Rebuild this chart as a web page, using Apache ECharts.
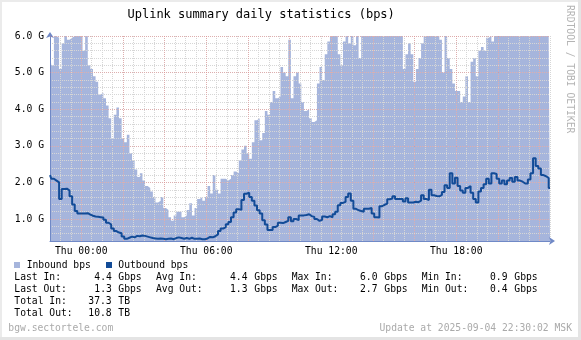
<!DOCTYPE html>
<html>
<head>
<meta charset="utf-8">
<script src="https://cdn.jsdelivr.net/npm/echarts@6.0.0/dist/echarts.min.js"></script>
<style>
html,body{margin:0;padding:0;background:#fff;}
#chart{width:581px;height:340px;}
</style>
</head>
<body>
<div id="chart"></div>
<script>
// ---- data ----
const startHour = -1.5;     // 22:30 previous day (hours relative to Thu 00:00)
const stepHour = 0.125;     // sample spacing in hours
const inboundGbps = [
  5.5, 5.2, 6.0, 5.95, 5.1, 5.8, 6.0, 5.9, 5.95, 6.0,
  6.0, 6.0, 6.0, 5.6, 6.0, 5.2, 5.1, 4.9, 4.75, 4.4,
  4.45, 4.3, 4.1, 3.75, 3.2, 3.85, 4.05, 3.75, 3.2, 3.1,
  3.3, 2.8, 2.6, 2.35, 2.15, 2.25, 2.05, 1.9, 1.85, 1.75,
  1.6, 1.45, 1.5, 1.6, 1.3, 1.25, 1.05, 0.95, 1.1, 1.2,
  1.2, 1.05, 1.1, 1.25, 1.43, 1.1, 1.3, 1.55, 1.6, 1.5,
  1.6, 1.9, 1.7, 2.2, 1.8, 1.7, 2.1, 2.1, 2.05, 2.1,
  2.2, 2.3, 2.25, 2.6, 2.9, 3.0, 2.8, 2.65, 3.1, 3.7,
  3.75, 3.15, 3.35, 3.95, 3.85, 4.2, 4.5, 4.3, 4.35, 5.15,
  5.0, 4.9, 5.9, 4.3, 4.9, 5.0, 4.7, 4.2, 3.95, 4.0,
  3.75, 3.65, 3.7, 4.7, 5.15, 4.8, 5.5, 5.85, 6.0, 6.0,
  6.0, 5.5, 5.2, 5.85, 6.0, 5.8, 6.0, 5.75, 6.0, 5.4,
  6.0, 6.0, 6.0, 6.0, 6.0, 6.0, 6.0, 6.0, 6.0, 6.0,
  6.0, 6.0, 6.0, 6.0, 6.0, 6.0, 5.1, 5.5, 5.8, 5.5,
  4.75, 5.1, 5.4, 5.8, 6.0, 6.0, 6.0, 6.0, 6.0, 6.0,
  5.9, 5.0, 6.0, 5.4, 5.1, 4.7, 4.5, 4.5, 4.2, 4.35,
  4.9, 4.2, 5.3, 5.4, 4.9, 5.6, 5.7, 5.6, 5.95, 6.0,
  5.85, 6.0, 6.0, 6.0, 6.0, 6.0, 6.0, 6.0, 6.0, 6.0,
  6.0, 6.0, 6.0, 6.0, 6.0, 6.0, 6.0, 6.0, 6.0, 6.0,
  6.0, 6.0, 6.0
];
const outboundGbps = [
  2.2, 2.1, 2.05, 2.0, 1.55, 1.82, 1.83, 1.78, 1.62, 1.4,
  1.22, 1.15, 1.15, 1.15, 1.16, 1.12, 1.09, 1.07, 1.06, 1.05,
  1.04, 0.98, 0.9, 0.85, 0.74, 0.67, 0.63, 0.61, 0.52, 0.46,
  0.49, 0.52, 0.5, 0.54, 0.53, 0.55, 0.54, 0.52, 0.5, 0.48,
  0.47, 0.46, 0.47, 0.46, 0.45, 0.46, 0.47, 0.45, 0.48, 0.5,
  0.48, 0.46, 0.48, 0.46, 0.49, 0.46, 0.46, 0.47, 0.45, 0.45,
  0.47, 0.51, 0.5, 0.53, 0.58, 0.67, 0.74, 0.78, 0.86, 0.92,
  1.05, 1.18, 1.27, 1.25, 1.52, 1.69, 1.72, 1.6, 1.5, 1.37,
  1.24, 1.15, 0.97, 0.85, 0.7, 0.7, 0.78, 0.82, 0.9, 0.89,
  0.92, 0.95, 1.05, 0.94, 1.0, 0.97, 1.1, 1.1, 1.11, 1.13,
  1.08, 1.06, 1.0, 0.95, 0.98, 1.07, 1.05, 1.08, 1.05, 1.13,
  1.2, 1.38, 1.44, 1.47, 1.6, 1.7, 1.5, 1.28, 1.24, 1.22,
  1.2, 1.28, 1.28, 1.3, 1.15, 1.05, 1.04, 1.35, 1.39, 1.42,
  1.54, 1.56, 1.62, 1.55, 1.55, 1.55, 1.48, 1.57, 1.45, 1.45,
  1.47, 1.46, 1.5, 1.65, 1.55, 1.52, 1.8, 1.65, 1.63, 1.62,
  1.66, 1.74, 1.92, 1.85, 2.25, 1.97, 2.13, 1.9, 1.78, 1.72,
  1.85, 1.9, 1.72, 1.55, 1.45, 1.75, 1.85, 1.95, 2.1, 1.97,
  2.25, 2.23, 2.1, 1.97, 2.05, 1.95, 2.05, 2.12, 2.02, 2.15,
  2.05, 2.02, 1.97, 1.97, 2.08, 2.25, 2.66, 2.45, 2.38, 2.2,
  2.17, 2.12, 1.85
];
const xLabelHours = [0, 6, 12, 18];
const xLabelDay = 'Thu';
const seriesNames = ['Inbound bps', 'Outbound bps'];
const statRowLabels = [['Last In:', 'Avg In:', 'Max In:', 'Min In:'], ['Last Out:', 'Avg Out:', 'Max Out:', 'Min Out:']];
const statRowValues = [['4.4', '4.4', '6.0', '0.9'], ['1.3', '1.3', '2.7', '0.4']];
const statUnit = 'Gbps';
const totalLabels = ['Total In:', 'Total Out:'];
const totalValues = ['37.3', '10.8'];
const totalUnit = 'TB';
const titleText = 'Uplink summary daily statistics (bps)';
const hostText = 'bgw.sectortele.com';
const updateText = 'Update at 2025-09-04 22:30:02 MSK';
const sideText = 'RRDTOOL / TOBI OETIKER';

// ---- styling ----
const FONT = 'DejaVu Sans Mono';
const C_IN = '#a6b5dc';
const C_OUT = '#124b97';
const C_AXIS = '#7089c6';
const C_GRID = '#d6d6d6';
const C_MGRID = 'rgba(232,120,120,0.42)';

const inData = inboundGbps.map((v, i) => [startHour + i * stepHour, v]);
const outData = outboundGbps.map((v, i) => [startHour + i * stepHour, v]);

const majorX = [];
for (let h = 0; h <= 22; h += 2) majorX.push({ xAxis: h });
const majorY = [];
for (let g = 1; g <= 6; g++) majorY.push({ yAxis: g });

function pad(n) { return (n < 10 ? '0' : '') + n; }

const txt = (x, y, text, opts) => Object.assign({
  type: 'text', x: x, y: y, silent: true,
  style: Object.assign({ text: text, fill: '#000', font: '9.7px "' + FONT + '"', textVerticalAlign: 'middle', textAlign: 'left' }, (opts || {}))
});

const graphics = [];
// frame
graphics.push({ type: 'rect', shape: { x: 0, y: 0, width: 581, height: 2 }, style: { fill: '#ebebeb' }, silent: true });
graphics.push({ type: 'rect', shape: { x: 0, y: 0, width: 2, height: 340 }, style: { fill: '#ebebeb' }, silent: true });
graphics.push({ type: 'rect', shape: { x: 0, y: 337, width: 581, height: 3 }, style: { fill: '#e4e4e4' }, silent: true });
graphics.push({ type: 'rect', shape: { x: 578, y: 0, width: 3, height: 340 }, style: { fill: '#e4e4e4' }, silent: true });
// title
graphics.push(txt(127.5, 15, titleText, { font: '12px "' + FONT + '"' }));
// side text
graphics.push({ type: 'text', x: 570, y: 5, rotation: -Math.PI / 2, silent: true,
  style: { text: sideText, fill: '#b4b4b4', font: '9.7px "' + FONT + '"', textAlign: 'left', textVerticalAlign: 'middle' } });
// legend
graphics.push({ type: 'rect', shape: { x: 14, y: 262, width: 6, height: 6 }, style: { fill: C_IN }, silent: true });
graphics.push(txt(26.7, 265.3, seriesNames[0]));
graphics.push({ type: 'rect', shape: { x: 106, y: 262, width: 6, height: 6 }, style: { fill: C_OUT }, silent: true });
graphics.push(txt(118.3, 265.3, seriesNames[1]));
// stats rows
const colLabelX = [14.3, 156, 291.7, 421.7];
const colValX = [94.3, 230, 360, 490];
const colUnitX = [118.3, 254.3, 384.3, 514.3];
const rowY = [277.7, 289.7];
for (let r = 0; r < 2; r++) {
  for (let c = 0; c < 4; c++) {
    graphics.push(txt(colLabelX[c], rowY[r], statRowLabels[r][c]));
    graphics.push(txt(colValX[c], rowY[r], statRowValues[r][c]));
    graphics.push(txt(colUnitX[c], rowY[r], statUnit));
  }
}
const totY = [301.5, 313.5];
for (let r = 0; r < 2; r++) {
  graphics.push(txt(14.3, totY[r], totalLabels[r]));
  graphics.push(txt(88.3, totY[r], totalValues[r]));
  graphics.push(txt(118.3, totY[r], totalUnit));
}
graphics.push(txt(8.3, 328, hostText, { fill: '#aaaaaa' }));
graphics.push(txt(572, 328, updateText, { fill: '#aaaaaa', textAlign: 'right' }));

const chart = echarts.init(document.getElementById('chart'), null, { renderer: 'canvas' });
chart.setOption({
  backgroundColor: '#ffffff',
  animation: false,
  grid: { left: 50, top: 36, width: 500, height: 205, containLabel: false },
  xAxis: {
    type: 'value', min: -1.5, max: 22.5, interval: 0.5, z: 3,
    axisLine: { show: true, lineStyle: { color: C_AXIS, width: 1 }, symbol: ['none', 'arrow'], symbolSize: [6, 6], symbolOffset: [0, 5] },
    axisTick: { show: false },
    splitLine: { show: true, lineStyle: { color: C_GRID, type: [1, 1], width: 1 } },
    axisLabel: {
      margin: 5, color: '#000', fontFamily: FONT, fontSize: 9.7,
      formatter: function (v) {
        const h = Math.round(v * 2) / 2;
        if (xLabelHours.indexOf(h) >= 0) return xLabelDay + ' ' + pad(h) + ':00';
        return '';
      }
    }
  },
  yAxis: {
    type: 'value', min: 0.4, max: 6.0, interval: 0.2, z: 3,
    axisLine: { show: true, onZero: false, lineStyle: { color: C_AXIS, width: 1 }, symbol: ['none', 'arrow'], symbolSize: [6, 6], symbolOffset: [0, 4] },
    axisTick: { show: false },
    splitLine: { show: true, lineStyle: { color: C_GRID, type: [1, 1], width: 1 } },
    axisLabel: {
      margin: 6, color: '#000', fontFamily: FONT, fontSize: 9.7,
      formatter: function (v) {
        if (Math.abs(v - Math.round(v)) < 1e-6) return Math.round(v).toFixed(1) + ' G';
        return '';
      }
    }
  },
  series: [
    {
      name: seriesNames[0], type: 'line', data: inData, step: 'middle', z: 2,
      showSymbol: false, lineStyle: { width: 0 }, itemStyle: { color: C_IN },
      areaStyle: { color: C_IN, opacity: 1, origin: 'start' }, silent: true
    },
    {
      name: 'grid', type: 'line', data: [], z: 4, silent: true,
      markLine: {
        silent: true, symbol: ['none', 'none'], label: { show: false }, animation: false, z: 4,
        lineStyle: { color: C_MGRID, type: [1, 1], width: 1 },
        data: majorX.concat(majorY)
      }
    },
    {
      name: seriesNames[1], type: 'line', data: outData, step: 'middle', z: 10,
      showSymbol: false, lineStyle: { width: 2, color: C_OUT }, itemStyle: { color: C_OUT }, silent: true
    }
  ],
  graphic: graphics
});
</script>
</body>
</html>
